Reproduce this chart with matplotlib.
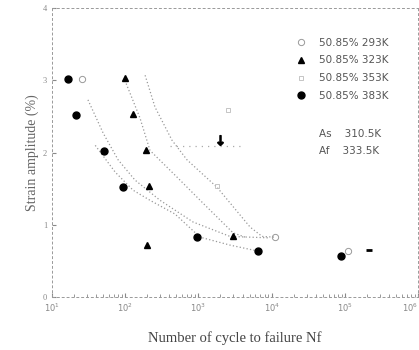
import matplotlib.pyplot as plt
import matplotlib.ticker as mticker

# fitted curves (cycles, strain %)
fit_293_n = [187, 255, 436, 698, 1795, 5070, 7400, 11100]
fit_293_e = [3.07, 2.63, 2.17, 1.90, 1.52, 0.97, 0.84, 0.83]
fit_323_n = [99, 159, 218, 511, 1156, 2970, 4340]
fit_323_e = [3.00, 2.48, 2.03, 1.66, 1.30, 0.89, 0.83]
fit_353_n = [31, 50, 80, 136, 299, 843, 2700, 9500]
fit_353_e = [2.73, 2.27, 1.90, 1.62, 1.34, 1.04, 0.84, 0.82]
fit_383_n = [39, 73, 128, 218, 479, 1052, 2700, 6320]
fit_383_e = [2.10, 1.73, 1.48, 1.34, 1.15, 0.83, 0.72, 0.64]

# measured points
n_293 = [25.7, 11100, 110700]
e_293 = [3.02, 0.83, 0.64]
n_323 = [99, 128, 192, 211, 199, 2970]
e_323 = [3.03, 2.53, 2.03, 1.54, 0.72, 0.84]
n_353 = [2540, 1795]
e_353 = [2.59, 1.54]
n_383 = [16.6, 21.3, 51, 93, 957, 6520, 88700]
e_383 = [3.02, 2.52, 2.02, 1.52, 0.83, 0.64, 0.57]

# run-out / odd marks
arrow_n = [1970]
arrow_e = [2.17]
runout_n = [214000]
runout_e = [0.65]
ref_n = [409, 4340]
ref_e = [2.09, 2.09]

x_ticks = [1e1, 1e2, 1e3, 1e4, 1e5, 1e6]
x_ticklabels = ["$10^{1}$", "$10^{2}$", "$10^{3}$", "$10^{4}$", "$10^{5}$", "$10^{6}$"]
labels = ["50.85% 293K", "50.85% 323K", "50.85% 353K", "50.85% 383K"]

plt.rcParams['font.family'] = ['Liberation Serif', 'DejaVu Serif']

fig = plt.figure(figsize=(4.19, 3.5), dpi=100)
ax = fig.add_axes([0.124, 0.151, 0.874, 0.826])

line_kw = dict(color='#999999', linestyle=(0, (1, 1.8)), linewidth=0.9)
for xs, ys in [(fit_293_n, fit_293_e), (fit_323_n, fit_323_e),
               (fit_353_n, fit_353_e), (fit_383_n, fit_383_e)]:
    ax.plot(xs, ys, **line_kw)
ax.plot(ref_n, ref_e, color='#aaaaaa', linestyle=(0, (1, 4)), linewidth=0.9)

h1, = ax.plot(n_293, e_293, 'o', mfc='none', mec='#999999', ms=4.5, mew=0.7, label=labels[0])
h2, = ax.plot(n_323, e_323, '^', color='black', ms=4.5, label=labels[1])
h3, = ax.plot(n_353, e_353, 's', mfc='none', mec='#bbbbbb', ms=3.5, mew=0.6, label=labels[2])
h4, = ax.plot(n_383, e_383, 'o', color='black', ms=5, label=labels[3])
ax.plot(arrow_n, arrow_e, marker='$\\downarrow$', color='black', ms=7, linestyle='none')
ax.plot(runout_n, runout_e, marker='_', color='black', ms=5, mew=2, linestyle='none')

ax.set_xscale('log')
ax.set_xlim(10, 1e6)
ax.set_ylim(0, 4)
ax.set_xticks(x_ticks)
ax.set_xticklabels(x_ticklabels)
ax.xaxis.set_minor_locator(mticker.LogLocator(base=10, subs=range(2, 10), numticks=20))
ax.xaxis.set_minor_formatter(mticker.NullFormatter())
ax.set_yticks([0, 1, 2, 3, 4])
ax.tick_params(direction='in', labelsize=6, colors='#888888', length=3)
ax.tick_params(which='minor', direction='in', length=2, colors='#888888')
ax.get_xticklabels()[-1].set_horizontalalignment('right')

for sp in ax.spines.values():
    sp.set_color('#999999')
    sp.set_linestyle((0, (2, 3)))
    sp.set_linewidth(0.7)

ax.set_xlabel("Number of cycle to failure Nf", fontsize=10.5, color='#444444', labelpad=12)
ax.set_ylabel("Strain amplitude (%)", fontsize=10, color='#666666', labelpad=3)

leg = ax.legend(handles=[h1, h2, h3, h4], loc='upper left', bbox_to_anchor=(0.64, 0.93),
                frameon=False, fontsize=7.5, handletextpad=1.2, labelspacing=0.75,
                handlelength=1.0)
for t in leg.get_texts():
    t.set_color('#555555')
    t.set_family(['DejaVu Sans'])

ax.text(0.73, 0.555, "As    310.5K", transform=ax.transAxes, fontsize=7.5,
        color='#555555', family=['DejaVu Sans'])
ax.text(0.73, 0.495, "Af    333.5K", transform=ax.transAxes, fontsize=7.5,
        color='#555555', family=['DejaVu Sans'])

fig.savefig("out.png", dpi=100)
